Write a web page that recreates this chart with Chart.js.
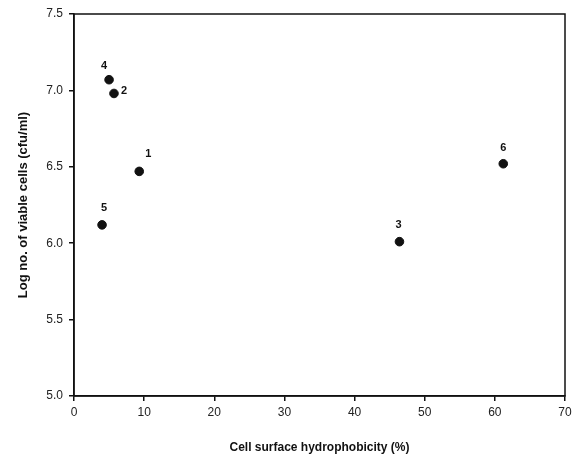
<!DOCTYPE html>
<html>
<head>
<meta charset="utf-8">
<script src="https://cdn.jsdelivr.net/npm/chart.js@4/dist/chart.umd.min.js"></script>
<style>
  html, body { margin: 0; padding: 0; background: #fff; }
  #wrap { width: 579px; height: 463px; }
</style>
</head>
<body>
<div id="wrap"><canvas id="chart" width="579" height="463"></canvas></div>
<script>
// data
const strainLabels = ["1", "2", "3", "4", "5", "6"];
const hydrophobicity = [9.3, 5.7, 46.4, 5.0, 4.0, 61.2];
const logViable = [6.47, 6.98, 6.01, 7.07, 6.12, 6.52];
const xTicks = [0, 10, 20, 30, 40, 50, 60, 70];
const yTicks = [5.0, 5.5, 6.0, 6.5, 7.0, 7.5];

// label offsets (px) relative to each point
const labelOffsets = [[9, -17], [10, -2], [-1, -17], [-5, -14], [2, -17], [0, -16]];

const points = hydrophobicity.map((x, i) => ({ x: x, y: logViable[i] }));

const frame = {
  id: "frame",
  afterDraw(chart) {
    const { ctx, chartArea: a } = chart;
    ctx.save();
    ctx.strokeStyle = "#111";
    ctx.lineWidth = 1.5;
    ctx.strokeRect(a.left, a.top, a.right - a.left, a.bottom - a.top);
    ctx.restore();
  }
};

const pointLabels = {
  id: "pointLabels",
  afterDatasetsDraw(chart) {
    const { ctx } = chart;
    const meta = chart.getDatasetMeta(0);
    ctx.save();
    ctx.font = "bold 11px 'Liberation Sans', Arial, sans-serif";
    ctx.fillStyle = "#111";
    ctx.textAlign = "center";
    ctx.textBaseline = "middle";
    meta.data.forEach((el, i) => {
      const off = labelOffsets[i];
      ctx.fillText(strainLabels[i], el.x + off[0], el.y + off[1]);
    });
    ctx.restore();
  }
};

new Chart(document.getElementById("chart"), {
  type: "scatter",
  data: {
    datasets: [{
      data: points,
      backgroundColor: "#111",
      borderColor: "#111",
      pointRadius: 4.3,
      pointHoverRadius: 4.3
    }]
  },
  options: {
    responsive: false,
    animation: false,
    layout: { padding: { top: 14, right: 14, left: 0, bottom: 0 } },
    plugins: { legend: { display: false }, tooltip: { enabled: false } },
    scales: {
      x: {
        type: "linear",
        min: 0, max: 70,
        afterBuildTicks(axis) { axis.ticks = xTicks.map(v => ({ value: v })); },
        afterFit(axis) { axis.height = 67; },
        grid: { display: true, drawOnChartArea: false, drawTicks: true, tickLength: 5, color: "#111", lineWidth: 1.5 },
        border: { color: "#111", width: 1.5 },
        ticks: {
          color: "#222",
          padding: 4,
          font: { family: "'Liberation Sans', Arial, sans-serif", size: 12 },
          callback: v => String(v)
        },
        title: {
          display: true,
          text: "Cell surface hydrophobicity (%)",
          color: "#111",
          font: { family: "'Liberation Sans', Arial, sans-serif", size: 12, weight: "bold" },
          padding: { top: 4, bottom: 8 }
        }
      },
      y: {
        type: "linear",
        min: 5.0, max: 7.5,
        afterBuildTicks(axis) { axis.ticks = yTicks.map(v => ({ value: v })); },
        afterFit(axis) { axis.width = 74; },
        grid: { display: true, drawOnChartArea: false, drawTicks: true, tickLength: 5, color: "#111", lineWidth: 1.5 },
        border: { color: "#111", width: 1.5 },
        ticks: {
          color: "#222",
          padding: 6,
          font: { family: "'Liberation Sans', Arial, sans-serif", size: 12 },
          callback: v => v.toFixed(1)
        },
        title: {
          display: true,
          text: "Log no. of viable cells (cfu/ml)",
          color: "#111",
          font: { family: "'Liberation Sans', Arial, sans-serif", size: 13, weight: "bold" },
          padding: { top: 16, bottom: 8 }
        }
      }
    }
  },
  plugins: [frame, pointLabels]
});
</script>
</body>
</html>
